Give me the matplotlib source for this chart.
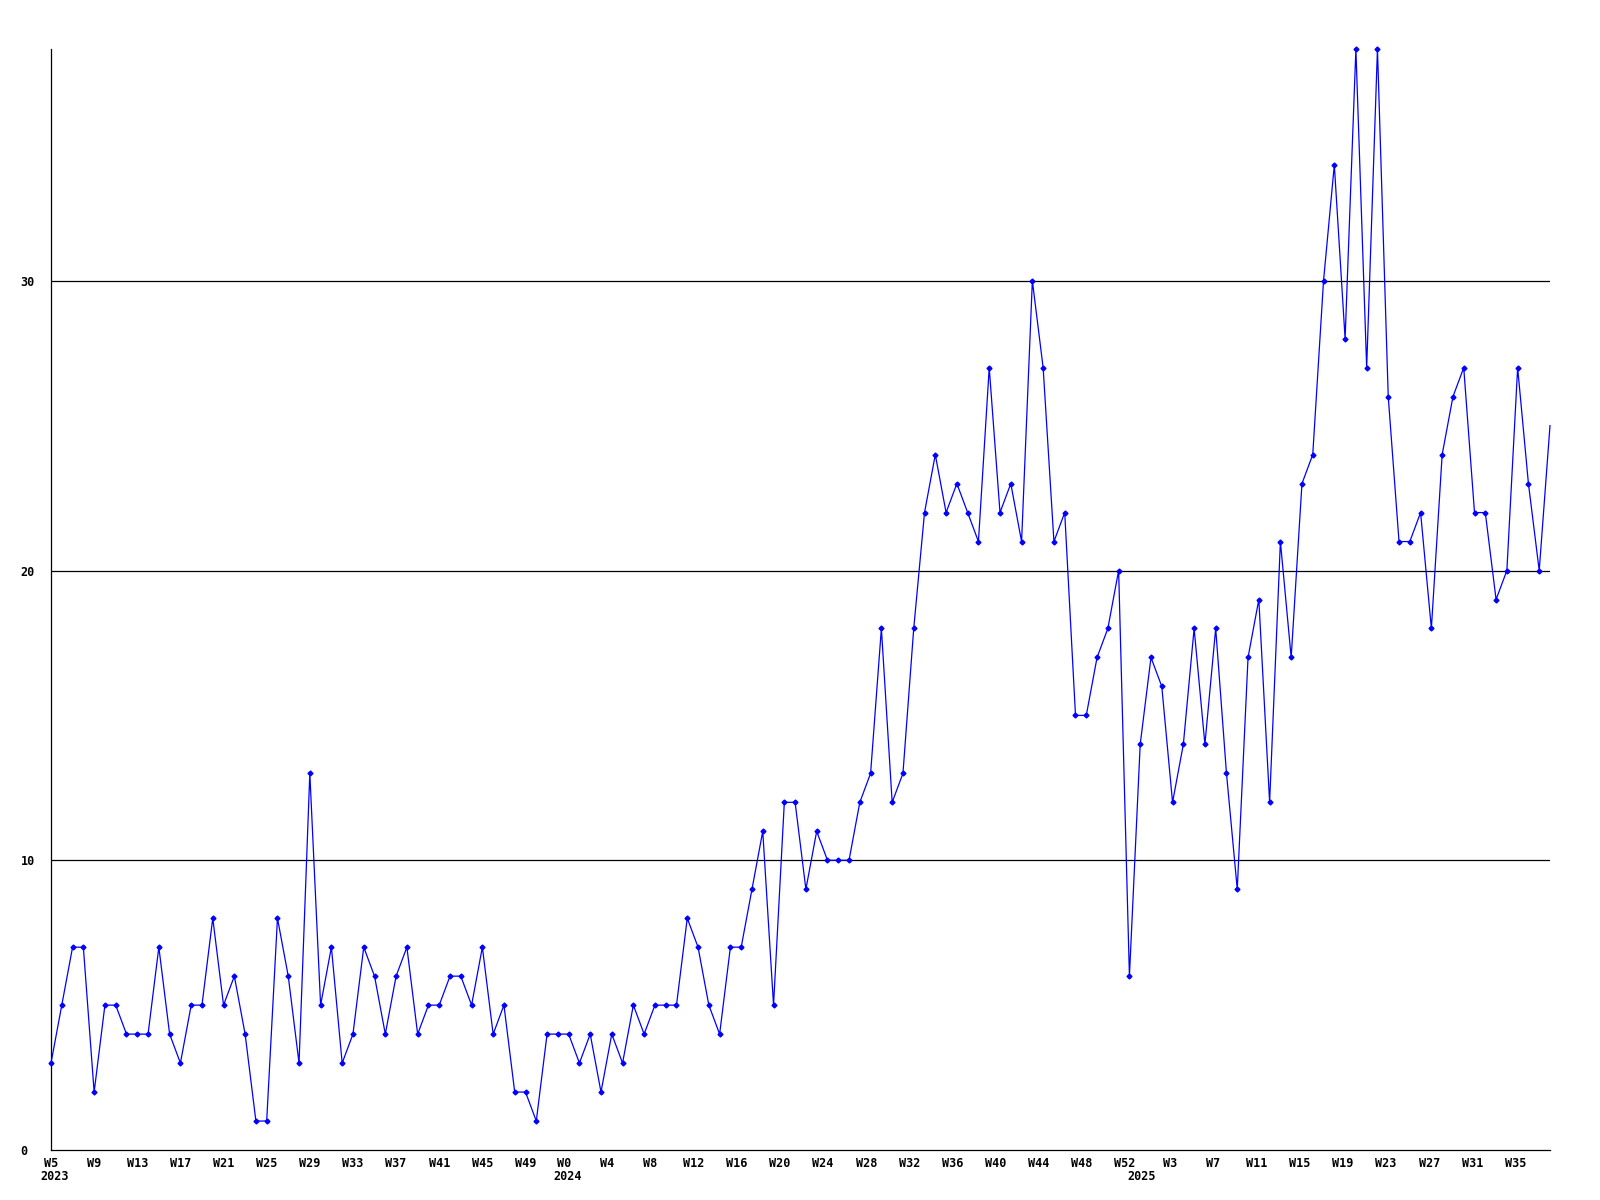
import matplotlib.pyplot as plt
import numpy as np

# weekly counts, 2023 W5 .. 2025 W38
counts = [3, 5, 7, 7, 2, 5, 5, 4, 4, 4,
          7, 4, 3, 5, 5, 8, 5, 6, 4, 1,
          1, 8, 6, 3, 13, 5, 7, 3, 4, 7,
          6, 4, 6, 7, 4, 5, 5, 6, 6, 5,
          7, 4, 5, 2, 2, 1, 4, 4, 4, 3,
          4, 2, 4, 3, 5, 4, 5, 5, 5, 8,
          7, 5, 4, 7, 7, 9, 11, 5, 12, 12,
          9, 11, 10, 10, 10, 12, 13, 18, 12, 13,
          18, 22, 24, 22, 23, 22, 21, 27, 22, 23,
          21, 30, 27, 21, 22, 15, 15, 17, 18, 20,
          6, 14, 17, 16, 12, 14, 18, 14, 18, 13,
          9, 17, 19, 12, 21, 17, 23, 24, 30, 34,
          28, 38, 27, 38, 26, 21, 21, 22, 18, 24,
          26, 27, 22, 22, 19, 20, 27, 23, 20, 25]

years = ["2023", "2024", "2025"]
tickWeeks = [[5, 9, 13, 17, 21, 25, 29, 33, 37, 41, 45, 49],
             [0, 4, 8, 12, 16, 20, 24, 28, 32, 36, 40, 44, 48, 52],
             [3, 7, 11, 15, 19, 23, 27, 31, 35]]
yTicks = [0, 10, 20, 30]

# where week 0 of each year falls on the point index axis
yearStart = [-5, 47.6, 100.8]

fig = plt.figure(figsize=(16, 12), dpi=100)
ax = fig.add_axes([51 / 1600, 1 - 1150 / 1200, 1499 / 1600, 1101 / 1200])

x = np.arange(len(counts))
ax.plot(x, counts, color=(0, 0, 1), lw=0.9, marker='D', ms=2.5,
        markevery=slice(0, len(counts) - 1), clip_on=False, zorder=3)

for v in yTicks[1:]:
    ax.axhline(v, color='black', lw=0.9, zorder=1)

tickPos = []
tickLab = []
for start, weeks in zip(yearStart, tickWeeks):
    for w in weeks:
        tickPos.append(start + w)
        tickLab.append("W%d" % w)

ax.set_xticks(tickPos)
ax.set_xticklabels(tickLab)
ax.set_yticks(yTicks)
ax.set_yticklabels([str(v) for v in yTicks], ha='left')
ax.set_xlim(0, len(counts) - 1)
ax.set_ylim(0, 38)

font = dict(family='DejaVu Sans Mono', weight='bold', size=8.5)
for lab in ax.get_xticklabels() + ax.get_yticklabels():
    lab.set_fontproperties(font)
ax.tick_params(axis='x', length=0, pad=5)
ax.tick_params(axis='y', length=0, pad=22)

for s, yr in zip(yearStart, years):
    ax.text(max(s, 0) + 0.3, -0.0245, yr, transform=ax.get_xaxis_transform(),
            ha='center', va='center', **font)

ax.spines['top'].set_visible(False)
ax.spines['right'].set_visible(False)
ax.spines['left'].set_linewidth(0.9)
ax.spines['bottom'].set_linewidth(0.9)

plt.savefig("out.png", dpi=100)
